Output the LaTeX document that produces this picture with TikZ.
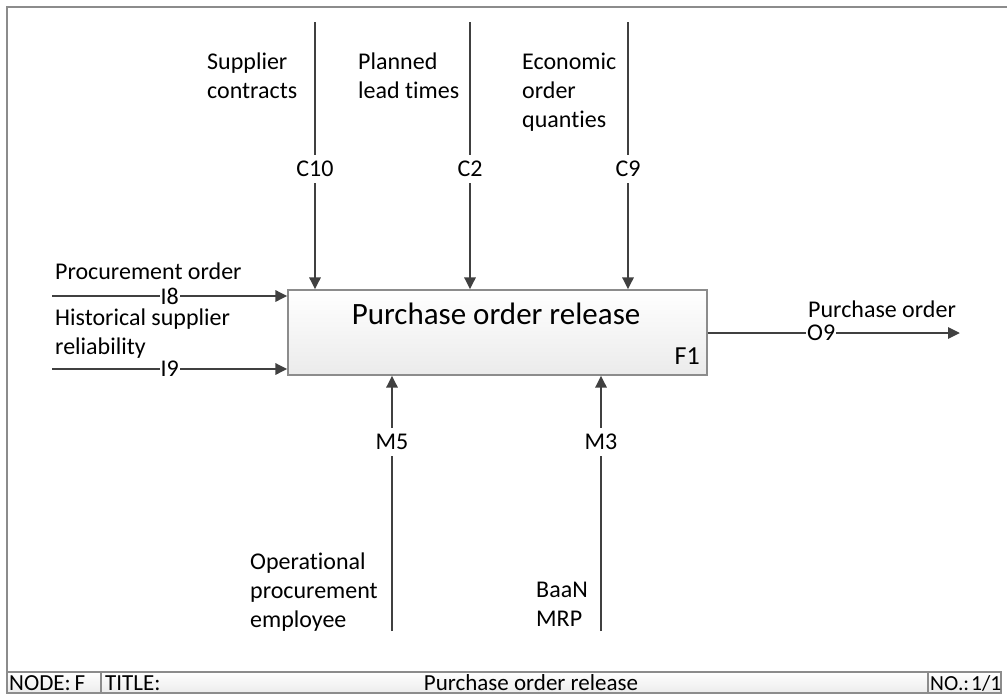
\documentclass[tikz,border=0pt]{standalone}
\usepackage{fontspec}
\setmainfont{Carlito}[Ligatures=NoCommon]
\usetikzlibrary{arrows.meta,positioning}
\definecolor{linegray}{HTML}{404040}
\definecolor{framegray}{HTML}{8C8C8C}
\definecolor{boxtop}{HTML}{FFFFFF}
\definecolor{boxbot}{HTML}{EBEBEB}
\tikzset{
  flow/.style={draw=linegray, line width=2.8pt,
    -{Triangle[length=12pt,width=11pt]}},
  tag/.style={fill=white, inner xsep=1pt, inner ysep=0pt, font=\fontsize{24}{28}\selectfont, text=black},
  vtag/.style={fill=white, inner xsep=1pt, inner ysep=6pt, font=\fontsize{24}{28}\selectfont, text=black},
  lbl/.style={align=left, anchor=north west, inner sep=0pt,
    font=\fontsize{24}{29}\selectfont, text=black},
  activity/.style={draw=framegray, line width=1.2pt, top color=boxtop, bottom color=boxbot,
    minimum width=419pt, minimum height=85pt, inner sep=0pt},
  barfont/.style={font=\fontsize{23}{25}\selectfont, inner sep=0pt, text=black}
}
\begin{document}
\begin{tikzpicture}[x=1pt,y=-1pt]
\useasboundingbox (0,0) rectangle (1007,696);
% outer frame
\draw[framegray, line width=1.2pt] (1007,7) -- (7,7) -- (7,693);
% title bar
\draw[framegray, line width=1.2pt, top color=white, bottom color=boxbot]
  (7,672) rectangle (1001,693);
\draw[framegray, line width=1.2pt] (101,672) -- (101,693) (928,672) -- (928,693);
\node[barfont, anchor=west] (nodelbl) at (9,683) {NODE:\,F};
\node[barfont, anchor=west] (titlelbl) at (105,683) {TITLE:};
\node[barfont] (titletxt) at (531,683) {Purchase order release};
\node[barfont, font=\fontsize{21.5}{25}\selectfont, anchor=west] (nolbl) at (930,683) {NO.:\kern2pt1/1};

% activity box
\node[activity] (f1) at (497.5,332.5) {};
\node[font=\fontsize{31}{34}\selectfont] (f1title) at (496,314) {Purchase order release};
\node[font=\fontsize{26}{30}\selectfont, anchor=east, inner sep=0pt] (f1id) at (700,356) {F1};

% controls
\coordinate (c10s) at (315,22);
\coordinate (c2s) at (470,22);
\coordinate (c9s) at (628,22);
\draw[flow] (c10s) -- node[vtag, pos=0.55] {C10} (c10s |- f1.north);
\draw[flow] (c2s) -- node[vtag, pos=0.55] {C2} (c2s |- f1.north);
\draw[flow] (c9s) -- node[vtag, pos=0.55] {C9} (c9s |- f1.north);
\node[lbl] (c10lbl) at (207,53) {Supplier\\contracts};
\node[lbl] (c2lbl) at (358,53) {Planned\\lead times};
\node[lbl] (c9lbl) at (522,53) {Economic\\order\\quanties};

% mechanisms
\coordinate (m5s) at (392,631);
\coordinate (m3s) at (601,631);
\draw[flow] (m5s) -- node[vtag, pos=0.74] {M5} (m5s |- f1.south);
\draw[flow] (m3s) -- node[vtag, pos=0.74] {M3} (m3s |- f1.south);
\node[lbl] (m5lbl) at (250,553) {Operational\\procurement\\employee};
\node[lbl] (m3lbl) at (536,582) {BaaN\\MRP};

% inputs
\coordinate (i8s) at (52,296);
\coordinate (i9s) at (52,369);
\draw[flow] (i8s) -- node[tag, pos=0.5] {I8} (i8s -| f1.west);
\draw[flow] (i9s) -- node[tag, pos=0.5] {I9} (i9s -| f1.west);
\node[lbl] (i8lbl) at (55,263) {Procurement order};
\node[lbl] (i9lbl) at (55,309) {Historical supplier\\reliability};

% output
\coordinate (o9e) at (960,333);
\draw[flow] (f1.east |- o9e) -- node[tag, pos=0.45] {O9} (o9e);
\node[lbl] (o9lbl) at (808,301) {Purchase order};
\end{tikzpicture}
\end{document}
